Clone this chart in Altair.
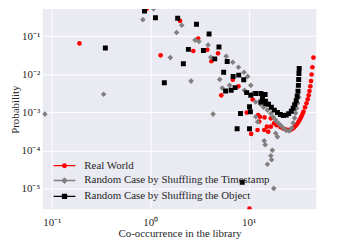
import altair as alt
import pandas as pd

SERIES = ["Real World",
          "Random Case by Shuffling the Timestamp",
          "Random Case by Shuffling the Object"]
COLORS = ["#FF0000", "#808080", "#000000"]

# Real World (red circles)
real_x = [0.191, 0.92, 2.01, 1.275, 3.07, 2.74, 3.8, 4.88, 4.18, 6.9, 7.88, 5.27,
          9.55, 10.97, 12.5, 13.0, 14.5, 12.8, 12.3, 10.6, 10.2, 15.3, 16.8, 16.8,
          19.2, 18.1, 14.4, 15.8,
          21.0, 22.0, 23.0, 24.1, 25.2, 26.2, 27.1, 28.0, 29.0, 30.0, 31.1, 32.0,
          32.9, 33.7, 34.5, 35.3, 36.1, 37.4, 38.7, 39.8,
          40.7, 41.5, 42.3, 43.0, 43.6, 44.4, 45.5,
          10.2]
real_y = [0.0643, 0.52, 0.25, 0.0313, 0.0866, 0.0408, 0.044, 0.0353, 0.0219, 0.0072,
          0.00482, 0.00281,
          0.00099, 0.00218, 0.00085, 0.00077, 0.00074, 0.00058, 0.000347, 0.000273,
          0.000362, 0.000423, 0.0007, 0.000423, 0.00046, 0.00052, 0.000347, 0.000313,
          0.000415, 0.00039, 0.000368, 0.000355, 0.000347, 0.00035, 0.000357,
          0.00038, 0.000403, 0.00045, 0.000497, 0.00056, 0.00063, 0.00071, 0.0008,
          0.00092, 0.00105, 0.00137, 0.00174, 0.00222, 0.00281, 0.00364, 0.00482,
          0.00662, 0.00988, 0.0153, 0.0273,
          3.0e-6]

# Shuffled timestamp (grey diamonds)
time_x = [0.085, 0.336, 0.841, 1.08, 1.6, 1.85, 2.09, 2.85, 3.12, 3.87, 2.6, 4.12,
          5.91, 6.9, 7.88, 8.97, 9.77, 10.5, 5.08, 5.39, 6.4, 4.35, 9.05, 10.97,
          11.8, 13.2, 14.2, 15.5, 16.8, 17.8, 18.8, 20.0, 21.1, 22.5, 24.1, 25.8,
          27.4, 28.3, 29.3, 30.0, 30.7, 31.4, 32.2, 11.8, 12.3, 18.8, 19.6, 14.4,
          14.7, 17.4, 16.8, 17.1, 15.5, 18.0]
time_y = [0.000903, 0.00299, 0.27, 0.52, 0.0273, 0.124, 0.193, 0.0787, 0.0724,
          0.0584, 0.00662, 0.0278, 0.0295, 0.0206, 0.0153, 0.0113, 0.00878, 0.00512,
          0.00733, 0.00435, 0.00512, 0.000903, 0.00379, 0.00312, 0.00188, 0.00164,
          0.00137, 0.00115, 0.00094, 0.000755, 0.00063, 0.000527, 0.00046, 0.000391,
          0.000337, 0.000327, 0.000391, 0.000527, 0.000711, 0.00096, 0.00129,
          0.00174, 0.0025, 0.00077, 0.00057, 0.000285, 0.000229, 0.00018, 0.000142,
          0.000102, 7.3e-5, 5.77e-5, 4.4e-5, 1.02e-5]

# Shuffled object (black squares)
obj_x = [0.35, 0.875, 1.13, 1.39, 1.9, 2.95, 3.96, 2.44, 3.47, 2.17,
         4.99, 4.52, 6.05, 5.57, 6.95, 7.93, 8.91, 7.28, 5.83, 6.64,
         9.55, 10.5, 11.8, 13.3, 14.7, 13.3, 14.9, 10.2, 8.26, 10.4,
         7.63, 10.2, 8.6,
         13.8, 14.8, 15.9, 17.0, 18.2, 19.6, 21.0, 22.5, 24.1, 25.5, 27.1, 28.3,
         29.3, 30.4, 31.1, 31.7, 32.0, 32.2, 32.4, 32.6]
obj_y = [0.0488, 0.454, 0.304, 0.00601, 0.294, 0.205, 0.113, 0.0449, 0.0422, 0.0188,
         0.0518, 0.0253, 0.0215, 0.0113, 0.00878, 0.0095, 0.0072, 0.00446, 0.00364,
         0.00379,
         0.0033, 0.00281, 0.00312, 0.00312, 0.00294, 0.00188, 0.00171, 0.0014,
         0.00094, 0.00104,
         0.000373, 0.000373, 1.48e-5,
         0.00235, 0.00197, 0.00164, 0.00137, 0.00115, 0.00099, 0.00088, 0.00083,
         0.00085, 0.00093, 0.00108, 0.00129, 0.0016, 0.00202, 0.00265, 0.00357,
         0.00512, 0.00733, 0.0105, 0.01415]

X_TICKS = [0.1, 1, 10]
Y_TICKS = [1e-1, 1e-2, 1e-3, 1e-4, 1e-5]

rows = []
for name, xs, ys in [(SERIES[0], real_x, real_y),
                     (SERIES[1], time_x, time_y),
                     (SERIES[2], obj_x, obj_y)]:
    for a, b in zip(xs, ys):
        rows.append({"series": name, "x": a, "y": b})
df = pd.DataFrame(rows)

FONT = "Liberation Serif"
TXT = "#262626"
BG = "#EAEAF2"

x_enc = alt.X("x:Q", scale=alt.Scale(type="log", domain=[0.0808, 48.6], nice=False),
              axis=alt.Axis(values=X_TICKS, title="Co-occurrence in the library",
                            labelPadding=7, titlePadding=0,
                            labelExpr="datum.value < 0.5 ? '10⁻¹' : datum.value < 5 ? '10⁰' : '10¹'"))
y_enc = alt.Y("y:Q", scale=alt.Scale(type="log", domain=[2.9e-6, 0.512], nice=False),
              axis=alt.Axis(values=Y_TICKS, title="Probability",
                            labelPadding=3, titlePadding=1,
                            labelExpr="datum.value > 0.05 ? '10⁻¹' : datum.value > 0.005 ? '10⁻²' : datum.value > 0.0005 ? '10⁻³' : datum.value > 0.00005 ? '10⁻⁴' : '10⁻⁵'"))

shapes = ["circle", "diamond", "square"]
sizes = [22, 32, 25]
layers = []
for name, col, shp, sz in zip(SERIES, COLORS, shapes, sizes):
    layers.append(
        alt.Chart(df).transform_filter(alt.datum.series == name)
        .mark_point(filled=True, opacity=1, shape=shp, size=sz, color=col, clip=True)
        .encode(x=x_enc, y=y_enc)
    )

# legend symbols: a short line with the marker in its middle (unit space, r = 6px)
legend_paths = [
    "M-1.83,0H1.83M-0.3,0A0.3,0.3,0,1,0,0.3,0A0.3,0.3,0,1,0,-0.3,0Z",
    "M-1.83,0H1.83M0,-0.4L0.4,0L0,0.4L-0.4,0Z",
    "M-1.83,0H1.83M-0.32,-0.32H0.32V0.32H-0.32Z",
]
leg = alt.Legend(title=None, orient="none", legendX=15, legendY=151,
                 symbolSize=144, symbolStrokeWidth=1.4, labelFont=FONT,
                 labelFontSize=11, labelColor=TXT, labelOffset=13, padding=0,
                 rowPadding=3, labelLimit=400)
legend_layer = (
    alt.Chart(df).transform_filter("false")
    .mark_point(filled=True, opacity=1, strokeWidth=1.4)
    .encode(
        fill=alt.Fill("series:N", scale=alt.Scale(domain=SERIES, range=COLORS), legend=leg, sort=SERIES),
        stroke=alt.Stroke("series:N", scale=alt.Scale(domain=SERIES, range=COLORS), legend=leg, sort=SERIES),
        shape=alt.Shape("series:N", scale=alt.Scale(domain=SERIES, range=legend_paths), legend=leg, sort=SERIES),
    )
)

chart = (
    alt.layer(*layers, legend_layer)
    .properties(width=276, height=202,
                padding={"left": 35, "top": 0, "right": 30, "bottom": 34},
                autosize=alt.AutoSizeParams(type="none"),
                view=alt.ViewBackground(fill=BG, strokeWidth=0))
    .configure_view(fill=BG, strokeWidth=0)
    .configure_axis(labelFont=FONT, labelFontSize=11, labelColor=TXT,
                    titleFont=FONT, titleFontSize=11, titleFontWeight="normal",
                    titleColor=TXT, grid=True, gridColor="#FFFFFF", gridWidth=1,
                    gridOpacity=1, domain=False, ticks=False)
)

chart.save("out.html", embed_options={"renderer": "svg", "actions": False})
